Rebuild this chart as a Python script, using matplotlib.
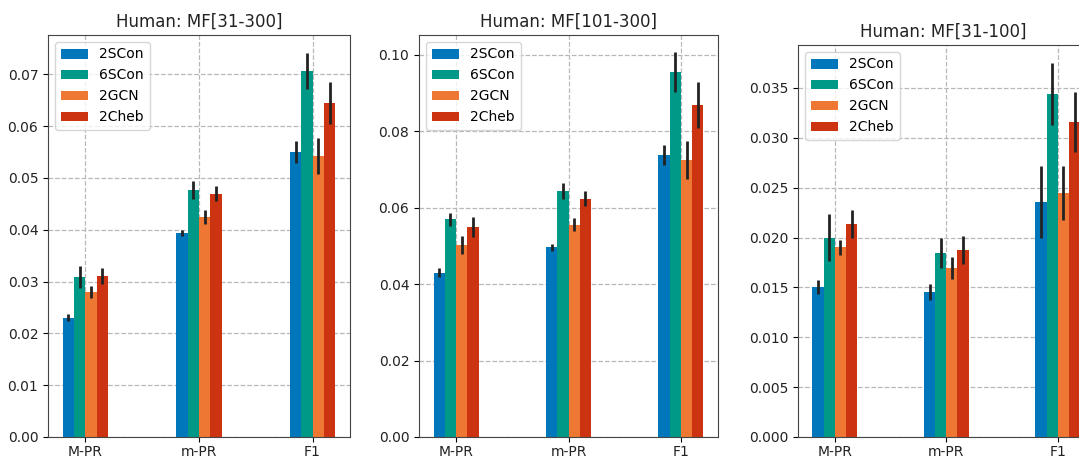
import matplotlib
matplotlib.use("Agg")
import matplotlib.pyplot as plt
import numpy as np

metrics = ["M-PR", "m-PR", "F1"]
models = ["2SCon", "6SCon", "2GCN", "2Cheb"]
colors = ["#0077BB", "#009988", "#EE7733", "#CC3311"]

# rows: models, cols: metrics
mf_31_300 = [[0.0230, 0.0394, 0.0550],
             [0.0309, 0.0477, 0.0706],
             [0.0280, 0.0425, 0.0542],
             [0.0311, 0.0470, 0.0645]]
mf_31_300_err = [[0.0007, 0.0006, 0.0021],
                 [0.0022, 0.0018, 0.0035],
                 [0.0011, 0.0013, 0.0035],
                 [0.0015, 0.0014, 0.0041]]

mf_101_300 = [[0.0430, 0.0496, 0.0739],
              [0.0570, 0.0645, 0.0955],
              [0.0503, 0.0556, 0.0725],
              [0.0549, 0.0624, 0.0869]]
mf_101_300_err = [[0.0011, 0.0008, 0.0026],
                  [0.0017, 0.0021, 0.0052],
                  [0.0024, 0.0018, 0.0049],
                  [0.0026, 0.0019, 0.0060]]

mf_31_100 = [[0.0150, 0.0145, 0.0236],
             [0.0200, 0.01845, 0.0344],
             [0.0190, 0.0169, 0.0245],
             [0.02135, 0.01875, 0.0316]]
mf_31_100_err = [[0.0007, 0.0008, 0.0036],
                 [0.0024, 0.0015, 0.0031],
                 [0.0008, 0.0011, 0.0027],
                 [0.0014, 0.0014, 0.0030]]

W, H = 1079, 458
fig = plt.figure(figsize=(W / 100, H / 100), dpi=100)

def px_axes(left, right, top, bottom):
    return fig.add_axes([left / W, (H - bottom) / H, (right - left) / W, (bottom - top) / H])

def draw(ax, title, vals, errs, ylim, yticks, fmt):
    x = np.arange(len(metrics))
    width = 0.1
    for i, m in enumerate(models):
        ax.bar(x + (i - 1.5) * width, vals[i], width, yerr=errs[i], color=colors[i],
               label=m, error_kw=dict(ecolor="#222222", elinewidth=2, capsize=0))
    ax.set_xticks(x)
    ax.set_xticklabels(metrics, fontsize=10, color="#222222")
    ax.tick_params(axis="x", pad=2)
    ax.set_xlim(-0.33, 2.33)
    ax.set_ylim(*ylim)
    ax.set_yticks(yticks)
    ax.set_yticklabels([fmt.format(v) for v in yticks], fontsize=10, color="#222222")
    ax.set_axisbelow(True)
    ax.grid(True, linestyle="--", color="#b8b8b8", linewidth=0.9)
    ax.set_title(title, fontsize=12, color="#222222")
    ax.legend(loc="upper left", fontsize=10)
    for s in ax.spines.values():
        s.set_color("#444444")

ax1 = px_axes(48, 350, 35, 437)
draw(ax1, "Human: MF[31-300]", mf_31_300, mf_31_300_err, (0, 0.0776),
     np.arange(0, 0.071, 0.01), "{:.2f}")

ax2 = px_axes(419, 718, 35, 437)
draw(ax2, "Human: MF[101-300]", mf_101_300, mf_101_300_err, (0, 0.1052),
     np.arange(0, 0.101, 0.02), "{:.2f}")

ax3 = px_axes(798, 798 + 2.66 * 111.5, 45, 437)
draw(ax3, "Human: MF[31-100]", mf_31_100, mf_31_100_err, (0, 0.0393),
     np.arange(0, 0.0351, 0.005), "{:.3f}")
ax3.title.set_position((0.49, 1.0))

fig.savefig("out.png", dpi=100)
